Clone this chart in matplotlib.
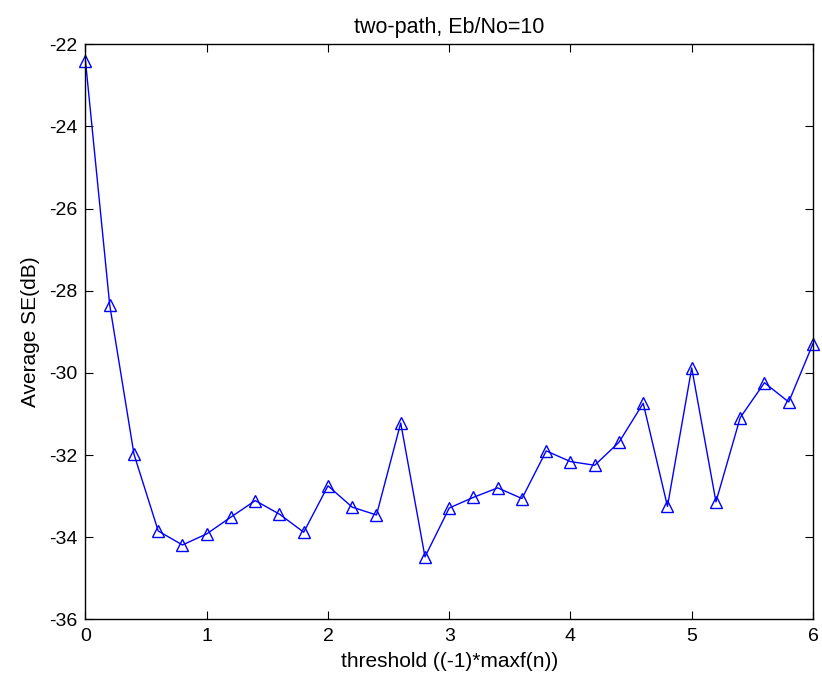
import matplotlib.pyplot as plt
import numpy as np

plt.rcParams['font.family'] = ['Liberation Sans', 'DejaVu Sans']
plt.rcParams['axes.unicode_minus'] = False

# threshold steps and measured average SE
threshold = np.arange(0, 6.01, 0.2)
avg_se = [-22.41, -28.35, -31.98, -33.85, -34.19, -33.92, -33.51, -33.11,
          -33.44, -33.88, -32.75, -33.27, -33.46, -31.22, -34.48, -33.29,
          -33.03, -32.80, -33.06, -31.90, -32.16, -32.25, -31.69, -30.74,
          -33.25, -29.88, -33.14, -31.09, -30.24, -30.71, -29.29]

fig = plt.figure(figsize=(8.22, 6.81), dpi=100)
ax = fig.add_axes([0.104, 0.0906, 0.885, 0.8444])

ax.plot(threshold, avg_se, color='#0000ff', lw=1.0, marker='^',
        markersize=9, markerfacecolor='none', markeredgecolor='#0000ff',
        markeredgewidth=1.0, clip_on=False)

ax.set_xlim(0, 6)
ax.set_ylim(-36, -22)
ax.set_xticks(range(0, 7))
ax.set_yticks(range(-36, -21, 2))
ax.tick_params(direction='in', length=6, width=0.8, top=True, right=True,
               labelsize=14, pad=6)
for s in ax.spines.values():
    s.set_linewidth(1.0)

ax.set_title('two-path, Eb/No=10', fontsize=15.5, pad=8)
ax.set_xlabel('threshold ((-1)*maxf(n))', fontsize=15, labelpad=5)
ax.set_ylabel('Average SE(dB)', fontsize=15, labelpad=6)

fig.savefig('out.png', dpi=100)
